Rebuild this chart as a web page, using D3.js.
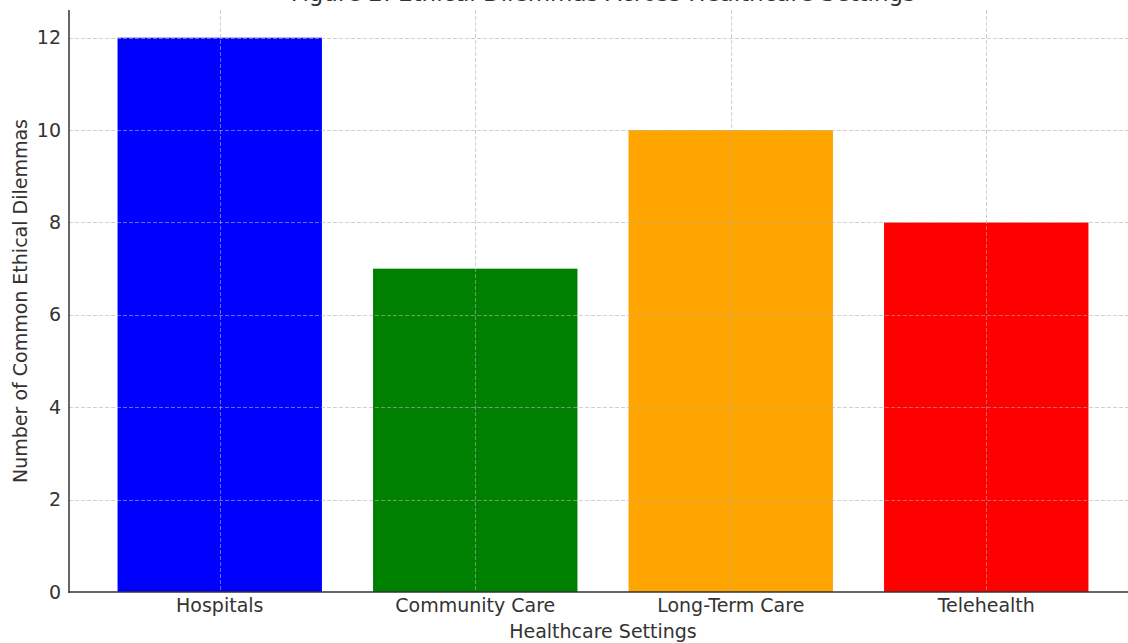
<!DOCTYPE html>
<html>
<head>
<meta charset="utf-8">
<script src="https://cdn.jsdelivr.net/npm/d3@7"></script>
<style>
  html, body { margin: 0; padding: 0; background: #fff; }
  svg { display: block; font-family: "DejaVu Sans", sans-serif; }
</style>
</head>
<body>
<svg id="chart" width="1128" height="643"></svg>
<script>
const categories = ["Hospitals", "Community Care", "Long-Term Care", "Telehealth"];
const values = [12, 7, 10, 8];
const barColors = ["#0000ff", "#008000", "#ffa500", "#ff0000"];
const yTicks = [0, 2, 4, 6, 8, 10, 12];
const titleText = "Figure 2: Ethical Dilemmas Across Healthcare Settings";
const xLabel = "Healthcare Settings";
const yLabel = "Number of Common Ethical Dilemmas";

(function () {
const svg = d3.select("#chart");
const pL = 69, pR = 1137, pT = 10, pB = 592;
const textColor = "#333333";

const x = d3.scaleBand().domain(categories).range([pL, pR])
  .paddingInner(0.2).paddingOuter(0.19);
const y = d3.scaleLinear().domain([0, 12.6]).range([pB, pT]);

// bars
svg.append("g").selectAll("rect").data(categories).join("rect")
  .attr("x", d => x(d))
  .attr("width", x.bandwidth())
  .attr("y", (d, i) => y(values[i]))
  .attr("height", (d, i) => y(0) - y(values[i]))
  .attr("fill", (d, i) => barColors[i]);

// grid (drawn above bars, semi-transparent)
const grid = svg.append("g")
  .attr("stroke", "#b0b0b0").attr("stroke-opacity", 0.6)
  .attr("stroke-width", 1).attr("stroke-dasharray", "4,2").attr("fill", "none");
grid.selectAll("line.h").data(yTicks.filter(t => t > 0)).join("line")
  .attr("class", "h")
  .attr("x1", pL).attr("x2", 1128)
  .attr("y1", d => Math.round(y(d)) + 0.5).attr("y2", d => Math.round(y(d)) + 0.5);
grid.selectAll("line.v").data(categories).join("line")
  .attr("class", "v")
  .attr("x1", d => Math.round(x(d) + x.bandwidth() / 2) + 0.5)
  .attr("x2", d => Math.round(x(d) + x.bandwidth() / 2) + 0.5)
  .attr("y1", pT).attr("y2", pB);

// y axis
const yAxis = d3.axisLeft(y).tickValues(yTicks).tickSize(0).tickPadding(8)
  .tickFormat(d3.format("d"));
const gy = svg.append("g").attr("transform", `translate(${pL},0)`).call(yAxis);
gy.select(".domain").remove();
gy.selectAll("text").attr("font-size", 19).attr("fill", textColor)
  .attr("font-family", "DejaVu Sans, sans-serif");

// x axis
const xAxis = d3.axisBottom(x).tickSize(0).tickPadding(7);
const gx = svg.append("g").attr("transform", `translate(0,${pB})`).call(xAxis);
gx.select(".domain").remove();
gx.selectAll("text").attr("font-size", 19).attr("fill", textColor)
  .attr("font-family", "DejaVu Sans, sans-serif");

// spines
svg.append("line").attr("x1", pL).attr("x2", pL).attr("y1", pT).attr("y2", pB + 0.75)
  .attr("stroke", textColor).attr("stroke-width", 1.5);
svg.append("line").attr("x1", pL - 0.75).attr("x2", 1128).attr("y1", pB).attr("y2", pB)
  .attr("stroke", textColor).attr("stroke-width", 1.5);

// labels
svg.append("text").attr("x", 603).attr("y", 638).attr("text-anchor", "middle")
  .attr("font-size", 19).attr("fill", textColor).text(xLabel);
svg.append("text").attr("transform", `translate(27,${(pT + pB) / 2}) rotate(-90)`)
  .attr("text-anchor", "middle").attr("font-size", 19).attr("fill", textColor).text(yLabel);
svg.append("text").attr("x", 603).attr("y", 1).attr("text-anchor", "middle")
  .attr("font-size", 23).attr("fill", textColor).text(titleText);
})();
</script>
</body>
</html>
